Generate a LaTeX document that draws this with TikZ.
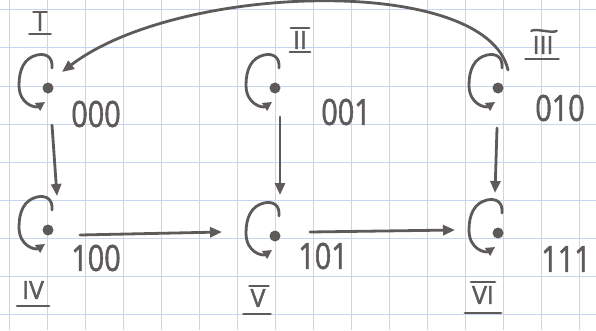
\documentclass[tikz,border=0pt]{standalone}
\usepackage{fontspec}
\setmainfont{Open Sans}
\newfontfamily\handfont{Open Sans}[FakeBold=1.6]
\usetikzlibrary{arrows.meta,calc}
\definecolor{ink}{HTML}{5E5A5A}
\definecolor{gridc}{HTML}{C6D6F2}
\begin{document}
\begin{tikzpicture}[x=1pt,y=1pt,
  inkline/.style={draw=ink,line width=2.8pt,line cap=round},
  arr/.style={inkline,-{Triangle[length=12pt,width=10pt]}},
  dotnode/.style={circle,fill=ink,inner sep=0pt,minimum size=11pt},
  code/.style={text=ink,font=\handfont\fontsize{36}{40}\selectfont,inner sep=0pt},
  roman/.style={text=ink,font=\handfont\fontsize{25}{28}\selectfont,inner sep=1pt},
  bar/.style={inkline,line width=2.4pt},
  selfloop/.style={inkline,-{Triangle[length=9pt,width=9pt]}}
]
\useasboundingbox (0,0) rectangle (596,330);
\fill[white] (0,0) rectangle (596,330);
% grid paper
\foreach \k in {0,...,15} \draw[gridc,line width=1pt] (9.5+38*\k,0) -- (9.5+38*\k,330);
\foreach \k in {0,...,8} \draw[gridc,line width=1pt] (0,320-38*\k) -- (596,320-38*\k);
% states
\node[dotnode] (n1) at (48,242) {};
\node[dotnode] (n2) at (275,242) {};
\node[dotnode] (n3) at (498,242) {};
\node[dotnode] (n4) at (48,100) {};
\node[dotnode] (n5) at (275,94) {};
\node[dotnode] (n6) at (498,97) {};
% self loops
\foreach \n in {n1,n2,n3,n4,n5,n6}
  \draw[selfloop] ($(\n)+(4,20)$) .. controls +(1,11) and +(9,2) .. ($(\n)+(-11,33)$)
     .. controls +(-13,-3) and +(0,15) .. ($(\n)+(-29,3)$)
     .. controls +(0,-20) and +(-9,-6) .. ($(\n)+(-3,-14)$);
% codes
\node[code] (c1) at (96,216) {\scalebox{0.8}[1]{000}};
\node[code] (c2) at (346,218) {\scalebox{0.8}[1]{001}};
\node[code] (c3) at (560,222) {\scalebox{0.8}[1]{010}};
\node[code] (c4) at (96,72) {\scalebox{0.8}[1]{100}};
\node[code] (c5) at (323,74) {\scalebox{0.8}[1]{101}};
\node[code] (c6) at (566,71) {\scalebox{0.8}[1]{111}};
% roman labels
\node[roman] (r1) at (40,308) {I};
\node[roman] (r2) at (300,290) {II};
\node[roman] (r3) at (543,285) {III};
\node[roman] (r4) at (33,40) {IV};
\node[roman] (r5) at (258,32) {V};
\node[roman] (r6) at (483,35) {VI};
\draw[bar] ($(r1.south west)+(-6,-2)$) -- ($(r1.south east)+(6,-2)$);
\draw[bar] ($(r1.north west)+(-2,0)$) -- ($(r1.north east)+(2,0)$);
\draw[bar] ($(r2.south west)+(-2,-2)$) -- ($(r2.south east)+(2,-2)$);
\draw[bar] ($(r2.north west)+(-1,2)$) -- ($(r2.north east)+(1,2)$);
\draw[bar] ($(r3.south west)+(-6,-4)$) -- ($(r3.south east)+(4,-4)$);
\draw[bar] ($(r3.north west)+(0,4)$) .. controls +(4,3) and +(-4,-3) .. ($(r3.north east)+(2,4)$);
\draw[bar] ($(r4.south west)+(-4,-6)$) -- ($(r4.south east)+(4,-6)$);
\draw[bar] ($(r5.south west)+(-6,-6)$) -- ($(r5.south east)+(4,-6)$);
\draw[bar] ($(r5.north west)+(0,2)$) -- ($(r5.north east)+(2,2)$);
\draw[bar] ($(r6.south west)+(-6,-8)$) -- ($(r6.south east)+(6,-8)$);
\draw[bar] ($(r6.north west)+(0,3)$) -- ($(r6.north east)+(0,3)$);
% transitions
\draw[arr] ($(n1)+(4,-37)$) -- ($(n4)+(9,34)$);
\draw[arr] ($(n2)+(5,-29)$) -- ($(n5)+(5,41)$);
\draw[arr] ($(n3)+(-1,-40)$) -- ($(n6)+(-3,40)$);
\draw[arr] ($(n4)+(32,-5)$) -- ($(n5)+(-53,4)$);
\draw[arr] ($(n5)+(35,4)$) -- ($(n6)+(-43,3)$);
\draw[arr] ($(n3)+(10,18)$) .. controls ($(n3)+(-12,114)$) and ($(n1)+(130,105)$) .. ($(n1)+(14,16)$);
\end{tikzpicture}
\end{document}
